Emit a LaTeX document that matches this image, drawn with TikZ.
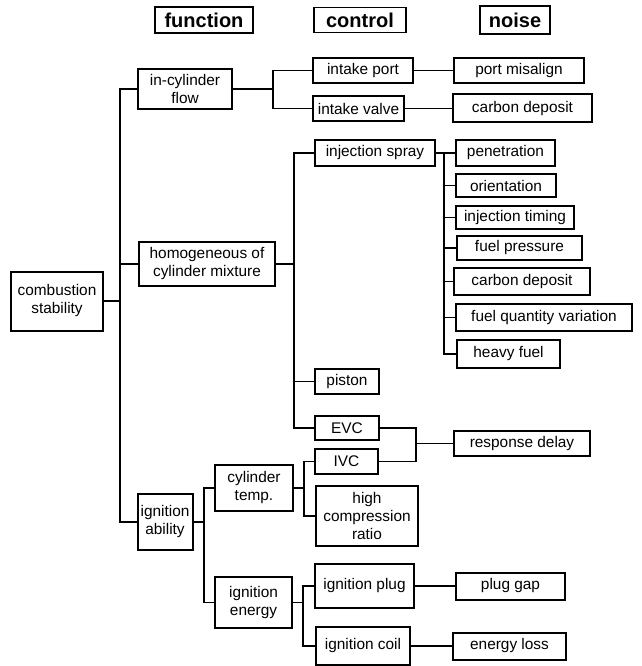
\documentclass[tikz,border=0pt]{standalone}
\usepackage{fontspec}
\setmainfont{Liberation Sans}
\begin{document}
\begin{tikzpicture}[x=1pt,y=-1pt,
  box/.style n args={2}{draw, line width=2pt, align=center, inner sep=0pt,
     minimum width=#1, minimum height=#2, font=\fontsize{15.4}{18}\selectfont},
  head/.style n args={2}{draw, line width=1.8pt, align=center, inner sep=0pt,
     minimum width=#1, minimum height=#2, font=\fontsize{20}{24}\selectfont\bfseries},
  conn/.style={line width=1.9pt}]
\useasboundingbox (0,0) rectangle (641,666);
% headers
\node[head={98pt}{26pt}] (hf) at (204,20) {function};
\node[head={92pt}{25pt}] (hc) at (360,20) {control};
\node[head={70pt}{28pt}] (hn) at (515,20) {noise};
% level 1 and 2
\node[box={92pt}{59pt}] (cs) at (57,301) {combustion\\stability};
\node[box={94pt}{40pt}] (icf) at (185,89) {in-cylinder\\flow};
\node[box={136pt}{44pt}] (hom) at (207,264) {homogeneous of\\cylinder mixture};
\node[box={55pt}{56pt}] (ia) at (165,522) {ignition\\ability};
\node[box={78pt}{46pt}] (ct) at (254,488) {cylinder\\temp.};
\node[box={77pt}{51pt}] (ie) at (253.5,602.5) {ignition\\energy};
% control
\node[box={100pt}{25pt}] (ip) at (363,70.5) {intake port};
\node[box={91pt}{25pt}] (iv) at (358.5,108.5) {intake valve};
\node[box={120pt}{26pt}] (is) at (375,153) {injection spray};
\node[box={64pt}{25pt}] (pis) at (347,381.5) {piston};
\node[box={64pt}{24pt}] (evc) at (347,428) {EVC};
\node[box={63pt}{25pt}] (ivc) at (346.5,461.5) {IVC};
\node[box={102pt}{60pt}] (hcr) at (367,516) {high\\compression\\ratio};
\node[box={99pt}{44pt}] (ipl) at (364.5,586) {ignition plug};
\node[box={94pt}{38pt}] (ic) at (363,646) {ignition coil};
% noise
\node[box={130pt}{25pt}] (pm) at (519,70.5) {port misalign};
\node[box={139pt}{28pt}] (cd1) at (522.5,108.5) {carbon deposit};
\node[box={99pt}{26pt}] (pen) at (505.5,153) {penetration};
\node[box={100pt}{23pt}] (ori) at (506,185.5) {orientation};
\node[box={118pt}{23pt}] (it) at (515,217.5) {injection timing};
\node[box={125pt}{24pt}] (fp) at (519.5,248) {fuel pressure};
\node[box={136pt}{27pt}] (cd2) at (522,281.5) {carbon deposit};
\node[box={176pt}{27pt}] (fqv) at (544,317.5) {fuel quantity variation};
\node[box={103pt}{28pt}] (hvf) at (508.5,354) {heavy fuel};
\node[box={136pt}{25pt}] (rd) at (522,443.5) {response delay};
\node[box={109pt}{27pt}] (pg) at (510.5,586) {plug gap};
\node[box={113pt}{27pt}] (el) at (509.5,646) {energy loss};
% junctions
\coordinate (j1) at (120,301);
\coordinate (j2) at (273,89);
\coordinate (j3) at (294,264);
\coordinate (j4) at (444,153);
\coordinate (j5) at (416,443.5);
\coordinate (j6) at (204,522);
\coordinate (j7) at (304,488);
\coordinate (j8) at (303,602.5);
% connectors
\draw[conn] (cs.east) -- (j1);
\draw[conn] (icf.west) -| (j1) |- (ia.west);
\draw[conn] (hom.west) -- (hom.west -| j1);
\draw[conn] (icf.east) -- (j2);
\draw[conn] (ip.west) -| (j2) |- (iv.west);
\draw[conn] (ip.east) -- (pm.west);
\draw[conn] (iv.east) -- (cd1.west);
\draw[conn] (hom.east) -- (j3);
\draw[conn] (is.west) -| (j3) |- (evc.west);
\draw[conn] (pis.west) -- (pis.west -| j3);
\draw[conn] (is.east) -- (pen.west);
\draw[conn] (j4) |- (hvf.west);
\draw[conn] (ori.west) -- (ori.west -| j4);
\draw[conn] (it.west) -- (it.west -| j4);
\draw[conn] (fp.west) -- (fp.west -| j4);
\draw[conn] (cd2.west) -- (cd2.west -| j4);
\draw[conn] (fqv.west) -- (fqv.west -| j4);
\draw[conn] (evc.east) -| (j5);
\draw[conn] (ivc.east) -| (j5);
\draw[conn] (j5) -- (rd.west);
\draw[conn] (ia.east) -- (j6);
\draw[conn] (ct.west) -| (j6) |- (ie.west);
\draw[conn] (ct.east) -- (j7);
\draw[conn] (ivc.west) -| (j7) |- (hcr.west);
\draw[conn] (ie.east) -- (j8);
\draw[conn] (ipl.west) -| (j8) |- (ic.west);
\draw[conn] (ipl.east) -- (pg.west);
\draw[conn] (ic.east) -- (el.west);
\end{tikzpicture}
\end{document}
